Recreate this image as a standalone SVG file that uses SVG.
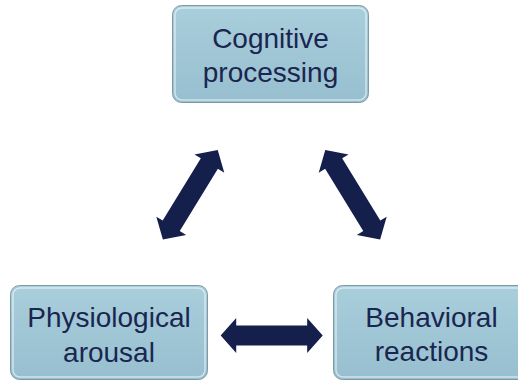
<svg xmlns="http://www.w3.org/2000/svg" width="518" height="381" viewBox="0 0 518 381">
  <style>
    .box { fill: url(#boxFill); stroke: #7d9ba7; stroke-width: 1; }
    .rim { fill: none; stroke: #ffffff; stroke-opacity: 0.55; stroke-width: 1.5; }
    .label { font-family: "Liberation Sans", Arial, sans-serif; font-size: 28px; fill: #1a2650; text-anchor: middle; }
    .arrow { fill: #141f4c; }
  </style>
  <defs>
    <linearGradient id="boxFill" x1="0" y1="0" x2="0" y2="1">
      <stop offset="0" stop-color="#a9cedc"/>
      <stop offset="1" stop-color="#97bfcf"/>
    </linearGradient>
    <!-- double-headed block arrow, 105 long, centred on the origin along x -->
    <path id="dblArrow" d="M -52.5 0 L -36.5 -17.5 L -36.5 -10 L 36.5 -10 L 36.5 -17.5 L 52.5 0 L 36.5 17.5 L 36.5 10 L -36.5 10 L -36.5 17.5 Z"/>
  </defs>

  <g id="connectors">
    <use href="#dblArrow" class="arrow" transform="translate(190.3 194.7) rotate(-58.5)"/>
    <use href="#dblArrow" class="arrow" transform="translate(352.7 194.7) rotate(58.5)"/>
    <use href="#dblArrow" class="arrow" transform="translate(271.7 335.5) scale(0.972 1)"/>
  </g>

  <g id="cognitive-processing">
    <rect class="box" x="172.5" y="5.5" width="196" height="97" rx="9"/>
    <rect class="rim" x="175" y="8" width="191" height="92" rx="7"/>
    <text class="label" x="270.5" y="48">Cognitive</text>
    <text class="label" x="270.5" y="82">processing</text>
  </g>

  <g id="physiological-arousal">
    <rect class="box" x="10.5" y="285.5" width="197" height="94" rx="9"/>
    <rect class="rim" x="13" y="288" width="192" height="89" rx="7"/>
    <text class="label" x="109" y="327">Physiological</text>
    <text class="label" x="109" y="362">arousal</text>
  </g>

  <g id="behavioral-reactions">
    <rect class="box" x="333.5" y="285.5" width="197" height="94" rx="9"/>
    <rect class="rim" x="336" y="288" width="192" height="89" rx="7"/>
    <text class="label" x="431.5" y="327">Behavioral</text>
    <text class="label" x="431.5" y="361">reactions</text>
  </g>
</svg>
